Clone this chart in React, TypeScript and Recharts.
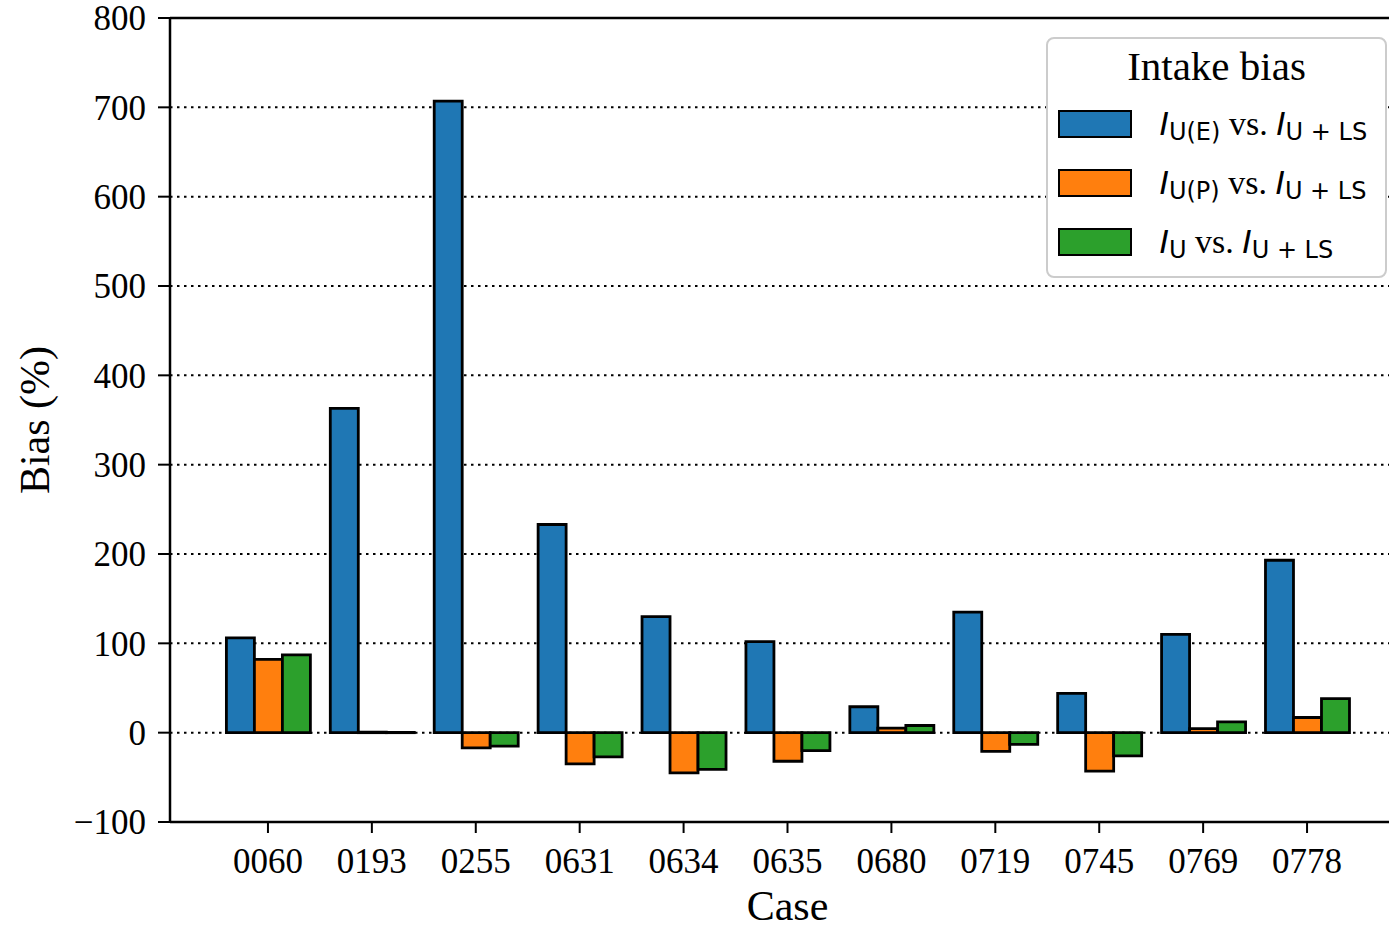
import React from "react";
import {
  BarChart,
  Bar,
  XAxis,
  YAxis,
  CartesianGrid,
  ReferenceLine,
  Legend,
} from "recharts";

const cases = ["0060", "0193", "0255", "0631", "0634", "0635", "0680", "0719", "0745", "0769", "0778"];
const biasUE = [106, 363, 707, 233, 130, 102, 29, 135, 44, 110, 193];
const biasUP = [82, 0.6, -17, -35, -45, -32, 5, -21, -43, 4.5, 17];
const biasU = [87, 0.3, -15, -27, -41, -20, 8, -13, -26, 12, 38];
const yTicks = [-100, 0, 100, 200, 300, 400, 500, 600, 700, 800];

const series = [
  { key: "ue", color: "#1f77b4", sub: "U(E)" },
  { key: "up", color: "#ff7f0e", sub: "U(P)" },
  { key: "u", color: "#2ca02c", sub: "U" },
];

const data = cases.map((c, i) => ({ case: c, ue: biasUE[i], up: biasUP[i], u: biasU[i] }));

const SERIF = "'Liberation Serif', 'Times New Roman', serif";
const SANS = "'DejaVu Sans', sans-serif";

const fmt = (v: number) => (v < 0 ? "\u2212" + Math.abs(v) : String(v));

// mathtext-like label: I_sub vs. I_{U + LS}
const MathLabel = ({ sub }: { sub: string }) => {
  const italicI = { fontFamily: SANS, fontStyle: "italic" as const, fontSize: 32 };
  const subStyle = {
    fontFamily: SANS,
    fontSize: 24,
    position: "relative" as const,
    top: 5,
    whiteSpace: "pre" as const,
  };
  return (
    <span style={{ fontFamily: SERIF, fontSize: 34, whiteSpace: "pre" }}>
      <span style={italicI}>I</span>
      <span style={subStyle}>{sub}</span>
      <span style={{ fontFamily: SERIF }}>{" vs. "}</span>
      <span style={italicI}>I</span>
      <span style={subStyle}>{"U + LS"}</span>
    </span>
  );
};

const renderLegend = () => (
  <div
    style={{
      boxSizing: "border-box",
      width: 341,
      height: 241,
      border: "2.5px solid #cccccc",
      borderRadius: 8,
      background: "#fff",
    }}
  >
    <div
      style={{
        height: 55,
        lineHeight: "55px",
        textAlign: "center",
        fontFamily: SERIF,
        fontSize: 41,
        color: "#000",
      }}
    >
      Intake bias
    </div>
    {series.map((s) => (
      <div key={s.key} style={{ height: 59, display: "flex", alignItems: "center" }}>
        <div
          style={{
            boxSizing: "border-box",
            marginLeft: 9.5,
            width: 74,
            height: 28,
            background: s.color,
            border: "2.8px solid #000",
          }}
        />
        <div style={{ marginLeft: 28, color: "#000" }}>
          <MathLabel sub={s.sub} />
        </div>
      </div>
    ))}
  </div>
);

export default function App() {
  return (
    <div
      style={{
        position: "absolute",
        left: 0,
        top: 0,
        width: 1389,
        height: 929,
        overflow: "hidden",
        background: "#fff",
      }}
    >
      <BarChart
        width={1420}
        height={929}
        data={data}
        margin={{ top: 18, right: 15, bottom: 0, left: 0 }}
        barCategoryGap="10%"
        barGap={0}
      >
        <CartesianGrid
          horizontal
          vertical={false}
          stroke="#000"
          strokeWidth={2}
          strokeDasharray="2.5 4.5"
        />
        <XAxis
          dataKey="case"
          height={107}
          padding={{ left: 46, right: 46 }}
          tickSize={11}
          tickMargin={15}
          axisLine={{ stroke: "#000", strokeWidth: 2.5 }}
          tickLine={{ stroke: "#000", strokeWidth: 2 }}
          tick={{ fill: "#000", fontSize: 35, fontFamily: SERIF }}
          interval={0}
          label={{
            value: "Case",
            position: "insideBottom",
            offset: 9,
            fill: "#000",
            fontSize: 42,
            fontFamily: SERIF,
          }}
        />
        <YAxis
          width={170}
          domain={[-100, 800]}
          ticks={yTicks}
          interval={0}
          tickFormatter={fmt}
          tickSize={12}
          tickMargin={12}
          axisLine={{ stroke: "#000", strokeWidth: 2.5 }}
          tickLine={{ stroke: "#000", strokeWidth: 2 }}
          tick={{ fill: "#000", fontSize: 35, fontFamily: SERIF }}
          label={{
            value: "Bias (%)",
            angle: -90,
            position: "insideLeft",
            offset: 34,
            fill: "#000",
            fontSize: 42,
            fontFamily: SERIF,
            style: { textAnchor: "middle" },
          }}
        />
        <ReferenceLine y={800} stroke="#000" strokeWidth={2.5} />
        {series.map((s) => (
          <Bar
            key={s.key}
            dataKey={s.key}
            fill={s.color}
            stroke="#000"
            strokeWidth={2.8}
            isAnimationActive={false}
          />
        ))}
        <Legend
          layout="vertical"
          align="center"
          verticalAlign="middle"
          content={renderLegend}
          wrapperStyle={{ left: 1046, top: 37, width: 341 }}
        />
      </BarChart>
    </div>
  );
}
